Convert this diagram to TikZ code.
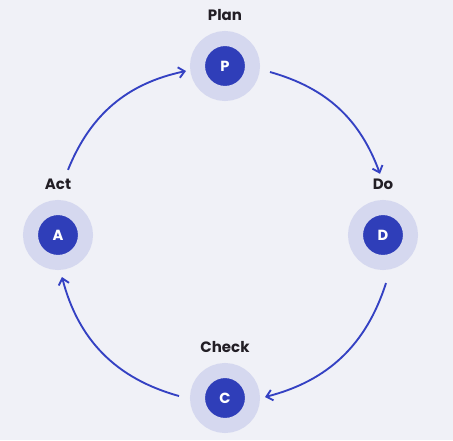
\documentclass[tikz,border=0pt]{standalone}
\usepackage{fontspec}
\setmainfont{Poppins}
\usetikzlibrary{arrows.meta,positioning}

\definecolor{paper}{HTML}{F0F1F7}
\definecolor{halo}{HTML}{D5D8EF}
\definecolor{core}{HTML}{2F3EB9}
\definecolor{cycleblue}{HTML}{3441C3}
\definecolor{ink}{HTML}{221E25}

\begin{document}
\begin{tikzpicture}[
  x=0.75pt, y=-0.75pt,
  stage/.style={circle,fill=core,draw=halo,line width=11.25pt,
                minimum size=41.25pt,inner sep=0pt,text=white,
                font=\fontsize{11}{13}\selectfont\bfseries},
  tag/.style={inner sep=0pt,text=ink,
              font=\fontsize{11.25}{13}\selectfont\bfseries},
  flow/.style={-{Straight Barb[length=4.5pt,width=8pt]},
               line width=1.4pt,draw=cycleblue},
]
  % Canvas
  \fill[paper] (0,0) rectangle (453,440);
  \useasboundingbox (0,0) rectangle (453,440);

  % Stages
  \node[stage] (p) at (225,66)  {P};
  \node[stage] (d) at (383,235) {D};
  \node[stage] (c) at (225,398) {C};
  \node[stage] (a) at (58,235)  {A};

  % Labels
  \node[tag,above=7.5pt of p] (plan)  {Plan};
  \node[tag,above=7.5pt of d] (do)    {Do};
  \node[tag,above=7.5pt of c] (check) {Check};
  \node[tag,above=7.5pt of a] (act)   {Act};

  % Cycle
  \draw[flow] ([shift={(10,-9)}]act.north) to[bend left=28] ([shift={(-4,5)}]p.west);
  \draw[flow] ([shift={(10,6)}]p.east) to[bend left=27] ([shift={(-3,-5)}]do.north);
  \draw[flow] ([shift={(3,13)}]d.south) to[bend left=29] ([shift={(5,-1)}]c.east);
  \draw[flow] ([shift={(-11,-2)}]c.west) to[bend left=30] ([shift={(4,7)}]a.south);
\end{tikzpicture}
\end{document}
